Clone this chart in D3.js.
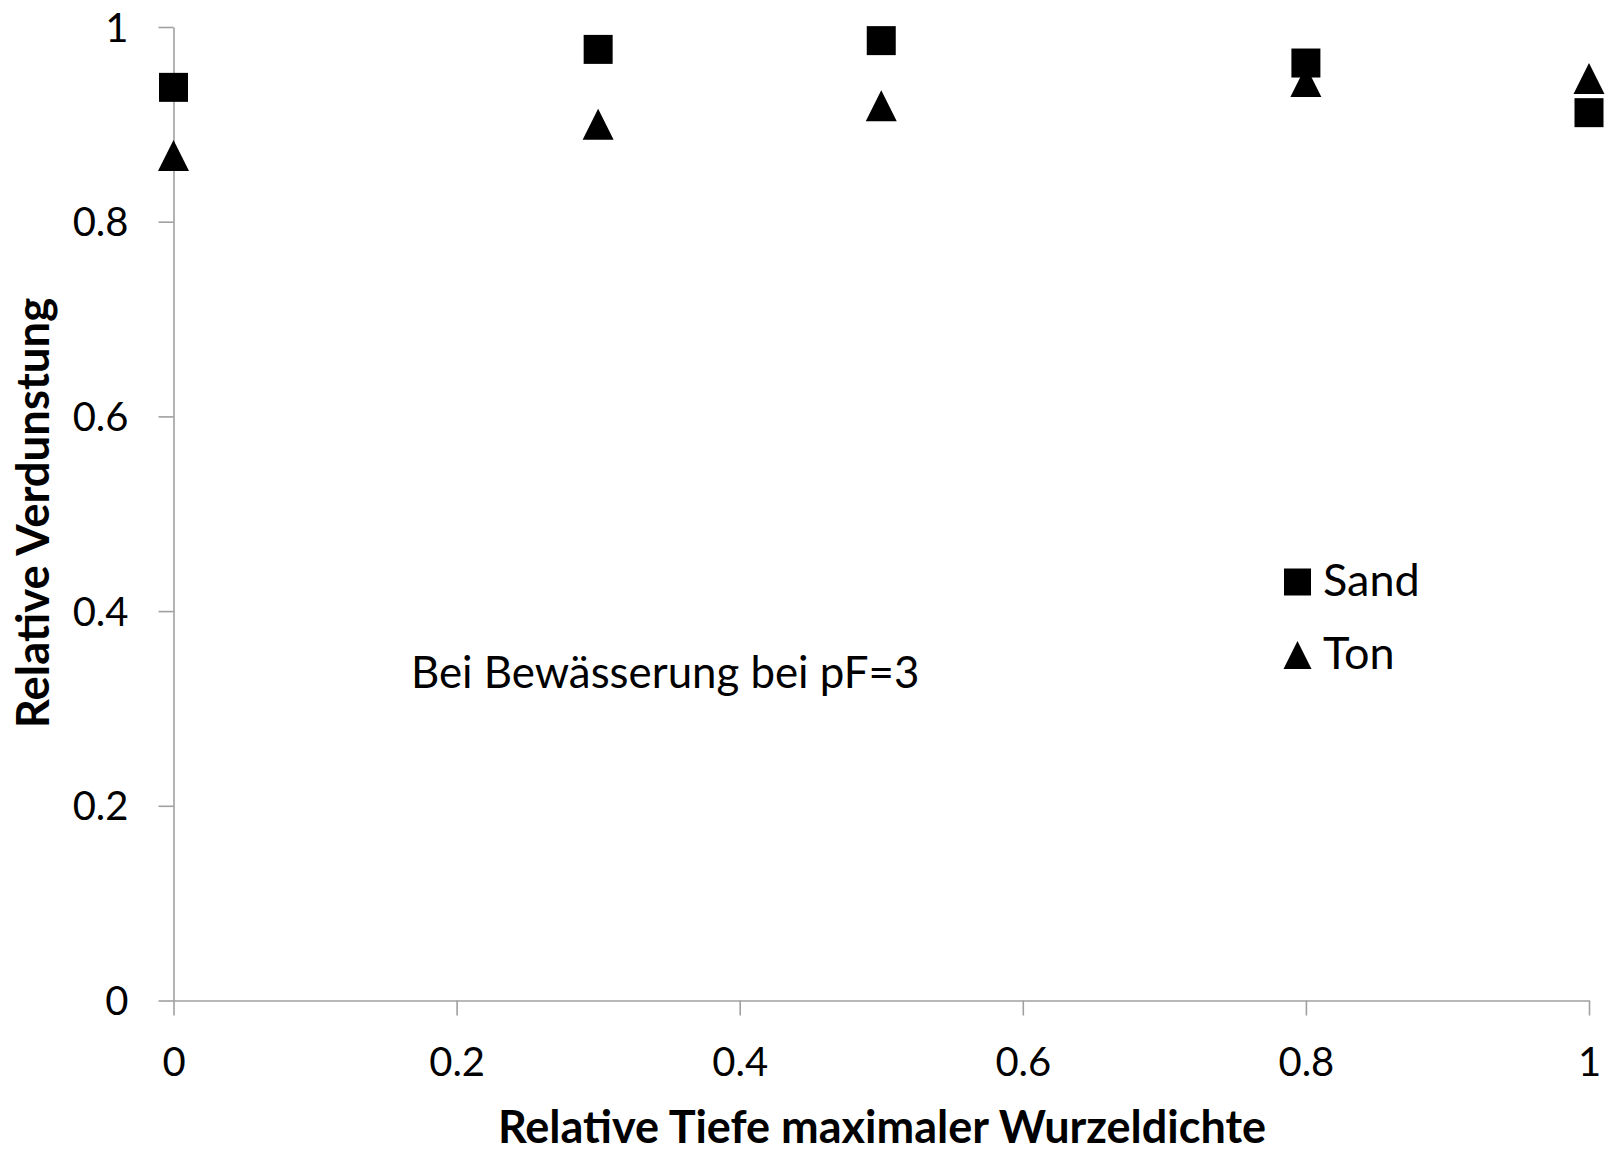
<!DOCTYPE html>
<html>
<head>
<meta charset="utf-8">
<script src="https://cdn.jsdelivr.net/npm/d3@7"></script>
<style>
  html, body { margin: 0; padding: 0; background: #fff; }
  svg { display: block; }
  text { font-family: Lato, "Open Sans", sans-serif; fill: #000; }
</style>
</head>
<body>
<svg id="chart" width="1610" height="1153"></svg>
<script>
// Relative depth of maximum root density
const depths = [0, 0.3, 0.5, 0.8, 1];
// Relative evaporation per soil type
const sandValues = [0.938, 0.977, 0.986, 0.963, 0.912];
const tonValues  = [0.868, 0.900, 0.919, 0.944, 0.947];
const seriesNames = ["Sand", "Ton"];
const xTicks = [0, 0.2, 0.4, 0.6, 0.8, 1];
const yTicks = [0, 0.2, 0.4, 0.6, 0.8, 1];

const svg = d3.select("#chart");
const x = d3.scaleLinear().domain([0, 1]).range([173.5, 1589]);
const y = d3.scaleLinear().domain([0, 1]).range([1000.5, 27]);

const axisColor = "#a0a0a0";
const fmt = d => String(d);

// Y axis
const yAxis = svg.append("g").attr("transform", `translate(${x(0)},0)`)
  .call(d3.axisLeft(y).tickValues(yTicks).tickSize(15).tickSizeOuter(0).tickPadding(30).tickFormat(fmt));
// X axis
const xAxis = svg.append("g").attr("transform", `translate(0,${y(0)})`)
  .call(d3.axisBottom(x).tickValues(xTicks).tickSize(15).tickSizeOuter(0).tickPadding(32).tickFormat(fmt));

[yAxis, xAxis].forEach(g => {
  g.select(".domain").attr("stroke", axisColor).attr("stroke-width", 1.6);
  g.selectAll(".tick line").attr("stroke", axisColor).attr("stroke-width", 1.6);
  g.selectAll(".tick text").attr("font-size", 40).attr("font-family", "Lato, 'Open Sans', sans-serif").attr("fill", "#000");
});
yAxis.selectAll(".tick text").attr("dy", "0.35em");
xAxis.selectAll(".tick text").attr("dy", "0.71em");

// Markers
const sq = d3.symbol().type(d3.symbolSquare).size(29 * 29);
const triSize = 31;
const triPath = s => `M0,${-s/2}L${s/2},${s/2}L${-s/2},${s/2}Z`;

svg.append("g").selectAll("path.sand").data(depths).join("path")
  .attr("class", "sand")
  .attr("d", sq)
  .attr("transform", (d, i) => `translate(${x(d)},${y(sandValues[i])})`)
  .attr("fill", "#000");

svg.append("g").selectAll("path.ton").data(depths).join("path")
  .attr("class", "ton")
  .attr("d", triPath(triSize))
  .attr("transform", (d, i) => `translate(${x(d)},${y(tonValues[i])})`)
  .attr("fill", "#000");

// Legend
const legend = svg.append("g");
legend.append("path").attr("d", d3.symbol().type(d3.symbolSquare).size(27 * 27))
  .attr("transform", "translate(1297.5,582)").attr("fill", "#000");
legend.append("path").attr("d", triPath(28))
  .attr("transform", "translate(1297.5,655)").attr("fill", "#000");
legend.append("text").attr("x", 1323).attr("y", 596).attr("font-size", 45).text(seriesNames[0]);
legend.append("text").attr("x", 1323).attr("y", 669).attr("font-size", 45).text(seriesNames[1]);

// Annotation
svg.append("text").attr("x", 411).attr("y", 688).attr("font-size", 43.8)
  .text("Bei Bewässerung bei pF=3");

// Axis titles
svg.append("text").attr("x", 882).attr("y", 1143).attr("text-anchor", "middle")
  .attr("font-size", 45).attr("font-weight", "bold")
  .text("Relative Tiefe maximaler Wurzeldichte");
svg.append("text").attr("transform", "translate(49,513) rotate(-90)").attr("text-anchor", "middle")
  .attr("font-size", 45.5).attr("font-weight", "bold")
  .text("Relative Verdunstung");
</script>
</body>
</html>
